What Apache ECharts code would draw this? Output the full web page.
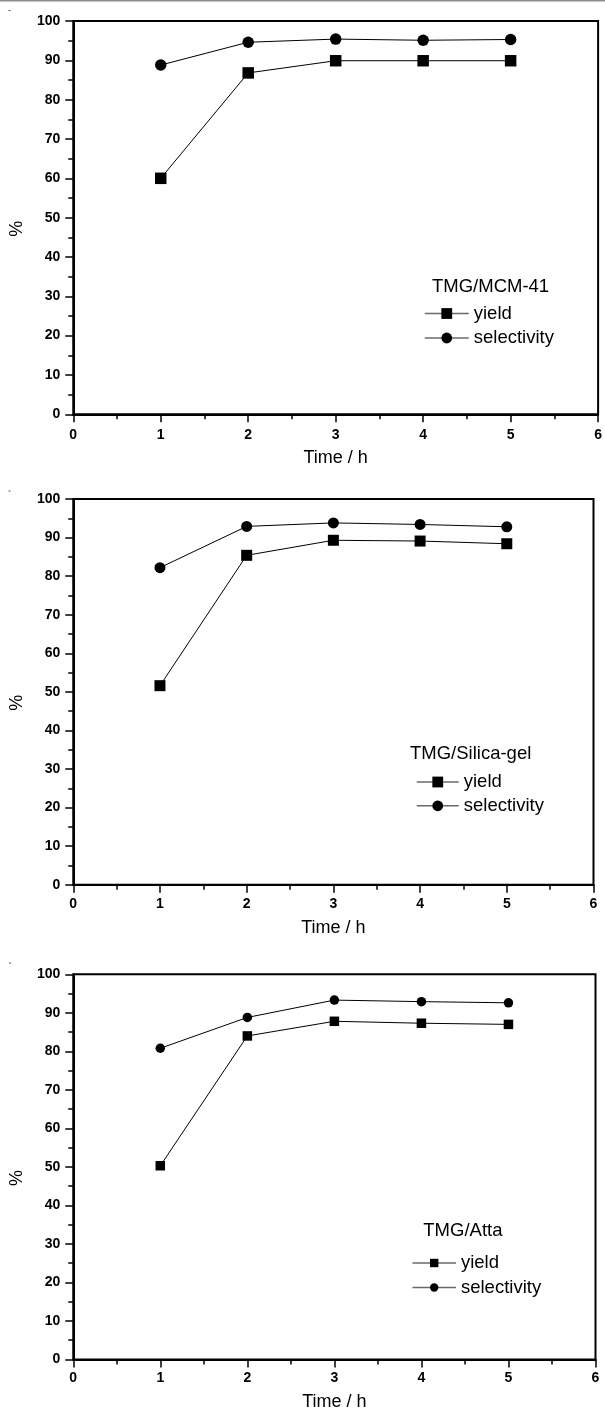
<!DOCTYPE html>
<html>
<head>
<meta charset="utf-8">
<title>TMG catalysts: yield and selectivity vs time</title>
<script src="https://cdn.jsdelivr.net/npm/echarts@6/dist/echarts.min.js"></script>
<style>
  html, body { margin: 0; padding: 0; background: #fff; }
  #chart { width: 605px; height: 1412px; }
</style>
</head>
<body>
<div id="chart"></div>
<script>
// Reaction time (h) at which samples were taken
const times = [1, 2, 3, 4, 5];

// Axis tick values
const timeTicks = [0, 1, 2, 3, 4, 5, 6];
const percentTicks = [0, 10, 20, 30, 40, 50, 60, 70, 80, 90, 100];

// Catalyst names
const catalysts = ['TMG/MCM-41', 'TMG/Silica-gel', 'TMG/Atta'];

// Yield (%) for each catalyst
const yieldMCM = [60.0, 86.8, 89.9, 89.9, 89.9];
const yieldSilica = [51.6, 85.4, 89.3, 89.1, 88.4];
const yieldAtta = [50.3, 84.0, 87.8, 87.3, 87.0];

// Selectivity (%) for each catalyst
const selectivityMCM = [88.8, 94.6, 95.4, 95.1, 95.3];
const selectivitySilica = [82.2, 92.9, 93.8, 93.4, 92.8];
const selectivityAtta = [80.8, 88.8, 93.3, 92.9, 92.6];

const yieldSets = [yieldMCM, yieldSilica, yieldAtta];
const selectivitySets = [selectivityMCM, selectivitySilica, selectivityAtta];

// Panel geometry (pixels)
const panels = [
  { left: 65.7, top: 21,    width: 534.6, height: 393.3, nameGapX: 35,   nameGapY: 39, labelMarginX: 13.5,
    titleLeft: 432,   titleTop: 277.5, legendLeft: 424,   legendTop: 304,    legendGap: 5.5, itemWidth: 44,   itemHeight: 13.5, symbolSize: 11.5 },
  { left: 70,   top: 499,   width: 523.5, height: 385.7, nameGapX: 34.5, nameGapY: 42, labelMarginX: 12,
    titleLeft: 410,   titleTop: 744,   legendLeft: 416,   legendTop: 772.5,  legendGap: 4.8, itemWidth: 42,   itemHeight: 13.5, symbolSize: 11 },
  { left: 70,   top: 974.3, width: 525.5, height: 386.7, nameGapX: 33.5, nameGapY: 42, labelMarginX: 12,
    titleLeft: 423.3, titleTop: 1221.75, legendLeft: 411.7, legendTop: 1253.5, legendGap: 5.5, itemWidth: 43.5, itemHeight: 10.5, symbolSize: 9.5 }
];

const FONT = '"Liberation Sans", Arial, Helvetica, sans-serif';
const INK = '#000';

const grids = [], xAxes = [], yAxes = [], series = [], titles = [], legends = [];

panels.forEach((p, i) => {
  grids.push({
    left: p.left, top: p.top, width: p.width, height: p.height,
    containLabel: false, show: true, borderColor: INK, borderWidth: 2, backgroundColor: 'transparent'
  });

  xAxes.push({
    gridIndex: i, type: 'value',
    min: timeTicks[0], max: timeTicks[timeTicks.length - 1], interval: timeTicks[1] - timeTicks[0],
    name: 'Time / h', nameLocation: 'middle', nameGap: p.nameGapX,
    nameTextStyle: { fontFamily: FONT, fontSize: 18, color: INK },
    axisLine: { show: true, lineStyle: { color: INK, width: 2 } },
    axisTick: { show: true, inside: false, length: 8, lineStyle: { color: INK, width: 1.5 } },
    minorTick: { show: true, splitNumber: 2, length: 5, lineStyle: { color: INK, width: 1.5 } },
    axisLabel: { fontFamily: FONT, fontSize: 14, fontWeight: 'bold', color: INK, margin: p.labelMarginX },
    splitLine: { show: false }
  });

  yAxes.push({
    gridIndex: i, type: 'value',
    min: percentTicks[0], max: percentTicks[percentTicks.length - 1], interval: percentTicks[1] - percentTicks[0],
    name: '%', nameLocation: 'middle', nameGap: p.nameGapY,
    nameTextStyle: { fontFamily: FONT, fontSize: 18, color: INK, padding: [0, 22, 0, 0] },
    axisLine: { show: true, lineStyle: { color: INK, width: 2 } },
    axisTick: { show: true, inside: false, length: 8, lineStyle: { color: INK, width: 1.5 } },
    minorTick: { show: true, splitNumber: 2, length: 5, lineStyle: { color: INK, width: 1.5 } },
    axisLabel: { fontFamily: FONT, fontSize: 14, fontWeight: 'bold', color: INK, margin: 13 },
    splitLine: { show: false }
  });

  const lineBase = {
    type: 'line', xAxisIndex: i, yAxisIndex: i,
    symbolSize: p.symbolSize, showAllSymbol: true,
    itemStyle: { color: INK },
    lineStyle: { color: INK, width: 1 },
    emphasis: { disabled: true },
    animation: false
  };
  series.push(Object.assign({}, lineBase, {
    name: 'yield', symbol: 'rect',
    data: times.map((t, k) => [t, yieldSets[i][k]])
  }));
  series.push(Object.assign({}, lineBase, {
    name: 'selectivity', symbol: 'circle',
    data: times.map((t, k) => [t, selectivitySets[i][k]])
  }));

  titles.push({
    text: catalysts[i], left: p.titleLeft, top: p.titleTop, padding: 0,
    textStyle: { fontFamily: FONT, fontSize: 18.5, fontWeight: 'normal', color: INK }
  });

  legends.push({
    data: ['yield', 'selectivity'], orient: 'vertical',
    left: p.legendLeft, top: p.legendTop, padding: 0,
    itemWidth: p.itemWidth, itemHeight: p.itemHeight, itemGap: p.legendGap,
    selectedMode: false,
    lineStyle: { color: '#6a6a6a', width: 1.5 },
    textStyle: { fontFamily: FONT, fontSize: 18.5, color: INK }
  });
});

const chart = echarts.init(document.getElementById('chart'), null, { renderer: 'canvas' });
chart.setOption({
  backgroundColor: '#fff',
  animation: false,
  title: titles,
  legend: legends,
  grid: grids,
  xAxis: xAxes,
  yAxis: yAxes,
  series: series,
  graphic: [
    { type: 'rect', shape: { x: 0, y: 0, width: 605, height: 1.5 }, style: { fill: '#8e8e8e' }, silent: true },
    { type: 'rect', shape: { x: 8.5, y: 10, width: 2, height: 1 }, style: { fill: '#555' }, silent: true },
    { type: 'rect', shape: { x: 8.5, y: 490.5, width: 2, height: 1 }, style: { fill: '#555' }, silent: true },
    { type: 'rect', shape: { x: 9, y: 962.5, width: 2, height: 1 }, style: { fill: '#555' }, silent: true }
  ]
});
</script>
</body>
</html>
